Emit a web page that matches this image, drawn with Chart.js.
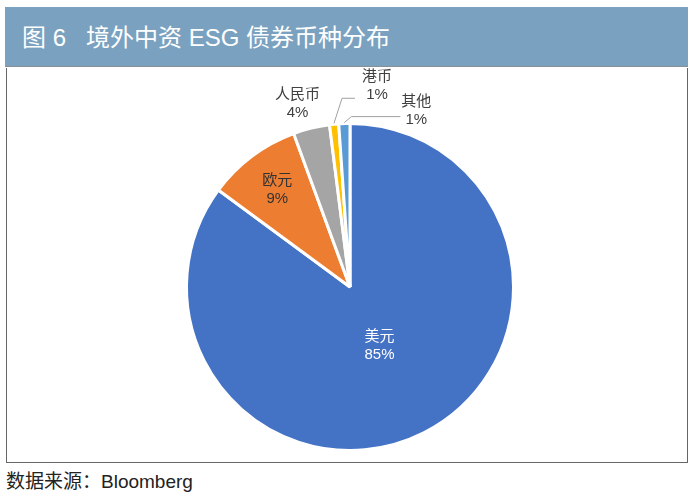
<!DOCTYPE html>
<html lang="zh">
<head>
  <meta charset="UTF-8" />
  <title>境外中资 ESG 债券币种分布</title>
  <script src="https://cdn.jsdelivr.net/npm/chart.js@4.4.1/dist/chart.umd.min.js"></script>
  <style>
    body{margin:0;background:#fff;font-family:"Liberation Sans","Noto Sans CJK SC",sans-serif;}
    #head{
      position:absolute;left:5px;top:7px;width:683px;height:60px;
      background:#7aa2c0;border-bottom:1px solid #8a8f95;color:#fff;
      font-size:24px;line-height:62px;box-sizing:border-box;padding-left:17px;
    }
    #box{
      position:absolute;left:6px;top:68px;width:682px;height:395px;
      border:1px solid #666;border-top:none;box-sizing:border-box;
    }
    #src{position:absolute;left:6px;top:466px;font-size:19px;color:#222;}
  </style>
</head>
<body>
  <div id="head">图 6&nbsp;&nbsp;&nbsp;境外中资 ESG 债券币种分布</div>
  <div id="box"><canvas id="chart" width="680" height="394"></canvas></div>
  <div id="src">数据来源：Bloomberg</div>

  <script>
    const categories = ["美元", "欧元", "人民币", "港币", "其他"];
    const shares = [85.1, 9.3, 3.6, 0.9, 1.1];
    const colors = ["#4472c4", "#ed7d31", "#a5a5a5", "#ffc000", "#5b9bd5"];

    // label placement: inside at r*R along mid angle, or outside with leader line
    const labelCfg = [
      {r:0.40, dx:0, color:"#fff"},
      {r:0.74, dx:0, color:"#333"},
      {r:1.15, dx:-8, color:"#404040"},
      {out:[43,-37], elbow:[8,-25], end:[21,-25], color:"#404040"},
      {out:[72,-12], elbow:[7,-6], end:[56,-6], color:"#404040"}
    ];

    const total = shares.reduce((a,b)=>a+b,0);

    const pieLabels = {
      id:'pieLabels',
      afterDatasetsDraw(chart){
        const ctx = chart.ctx;
        const arcs = chart.getDatasetMeta(0).data;
        ctx.save();
        ctx.font = '15px "Liberation Sans","Noto Sans CJK SC",sans-serif';
        ctx.textAlign = 'center';
        ctx.textBaseline = 'middle';
        arcs.forEach((arc,i)=>{
          const c = labelCfg[i];
          const mid = (arc.startAngle + arc.endAngle)/2;
          const R = arc.outerRadius;
          let x, y;
          if(c.out){
            const ox = arc.x + Math.cos(mid)*(R+1), oy = arc.y + Math.sin(mid)*(R+1);
            ctx.strokeStyle = '#a0a0a0';
            ctx.lineWidth = 1;
            ctx.beginPath();
            ctx.moveTo(ox, oy);
            ctx.lineTo(ox+c.elbow[0], oy+c.elbow[1]);
            ctx.lineTo(ox+c.end[0], oy+c.end[1]);
            ctx.stroke();
            x = ox + c.out[0]; y = oy + c.out[1];
          } else {
            x = arc.x + Math.cos(mid)*R*c.r + c.dx;
            y = arc.y + Math.sin(mid)*R*c.r;
          }
          const pct = Math.round(shares[i]/total*100) + '%';
          ctx.fillStyle = c.color;
          ctx.fillText(categories[i], x, y-9);
          ctx.fillText(pct, x, y+9);
        });
        ctx.restore();
      }
    };

    new Chart(document.getElementById('chart').getContext('2d'), {
      type:'pie',
      data:{
        labels:categories,
        datasets:[{data:shares, backgroundColor:colors, borderColor:'#fff', borderWidth:3}]
      },
      options:{
        responsive:false,
        animation:false,
        layout:{padding:{top:54, bottom:10, left:6, right:0}},
        plugins:{legend:{display:false}, tooltip:{enabled:false}}
      },
      plugins:[pieLabels]
    });
  </script>
</body>
</html>
